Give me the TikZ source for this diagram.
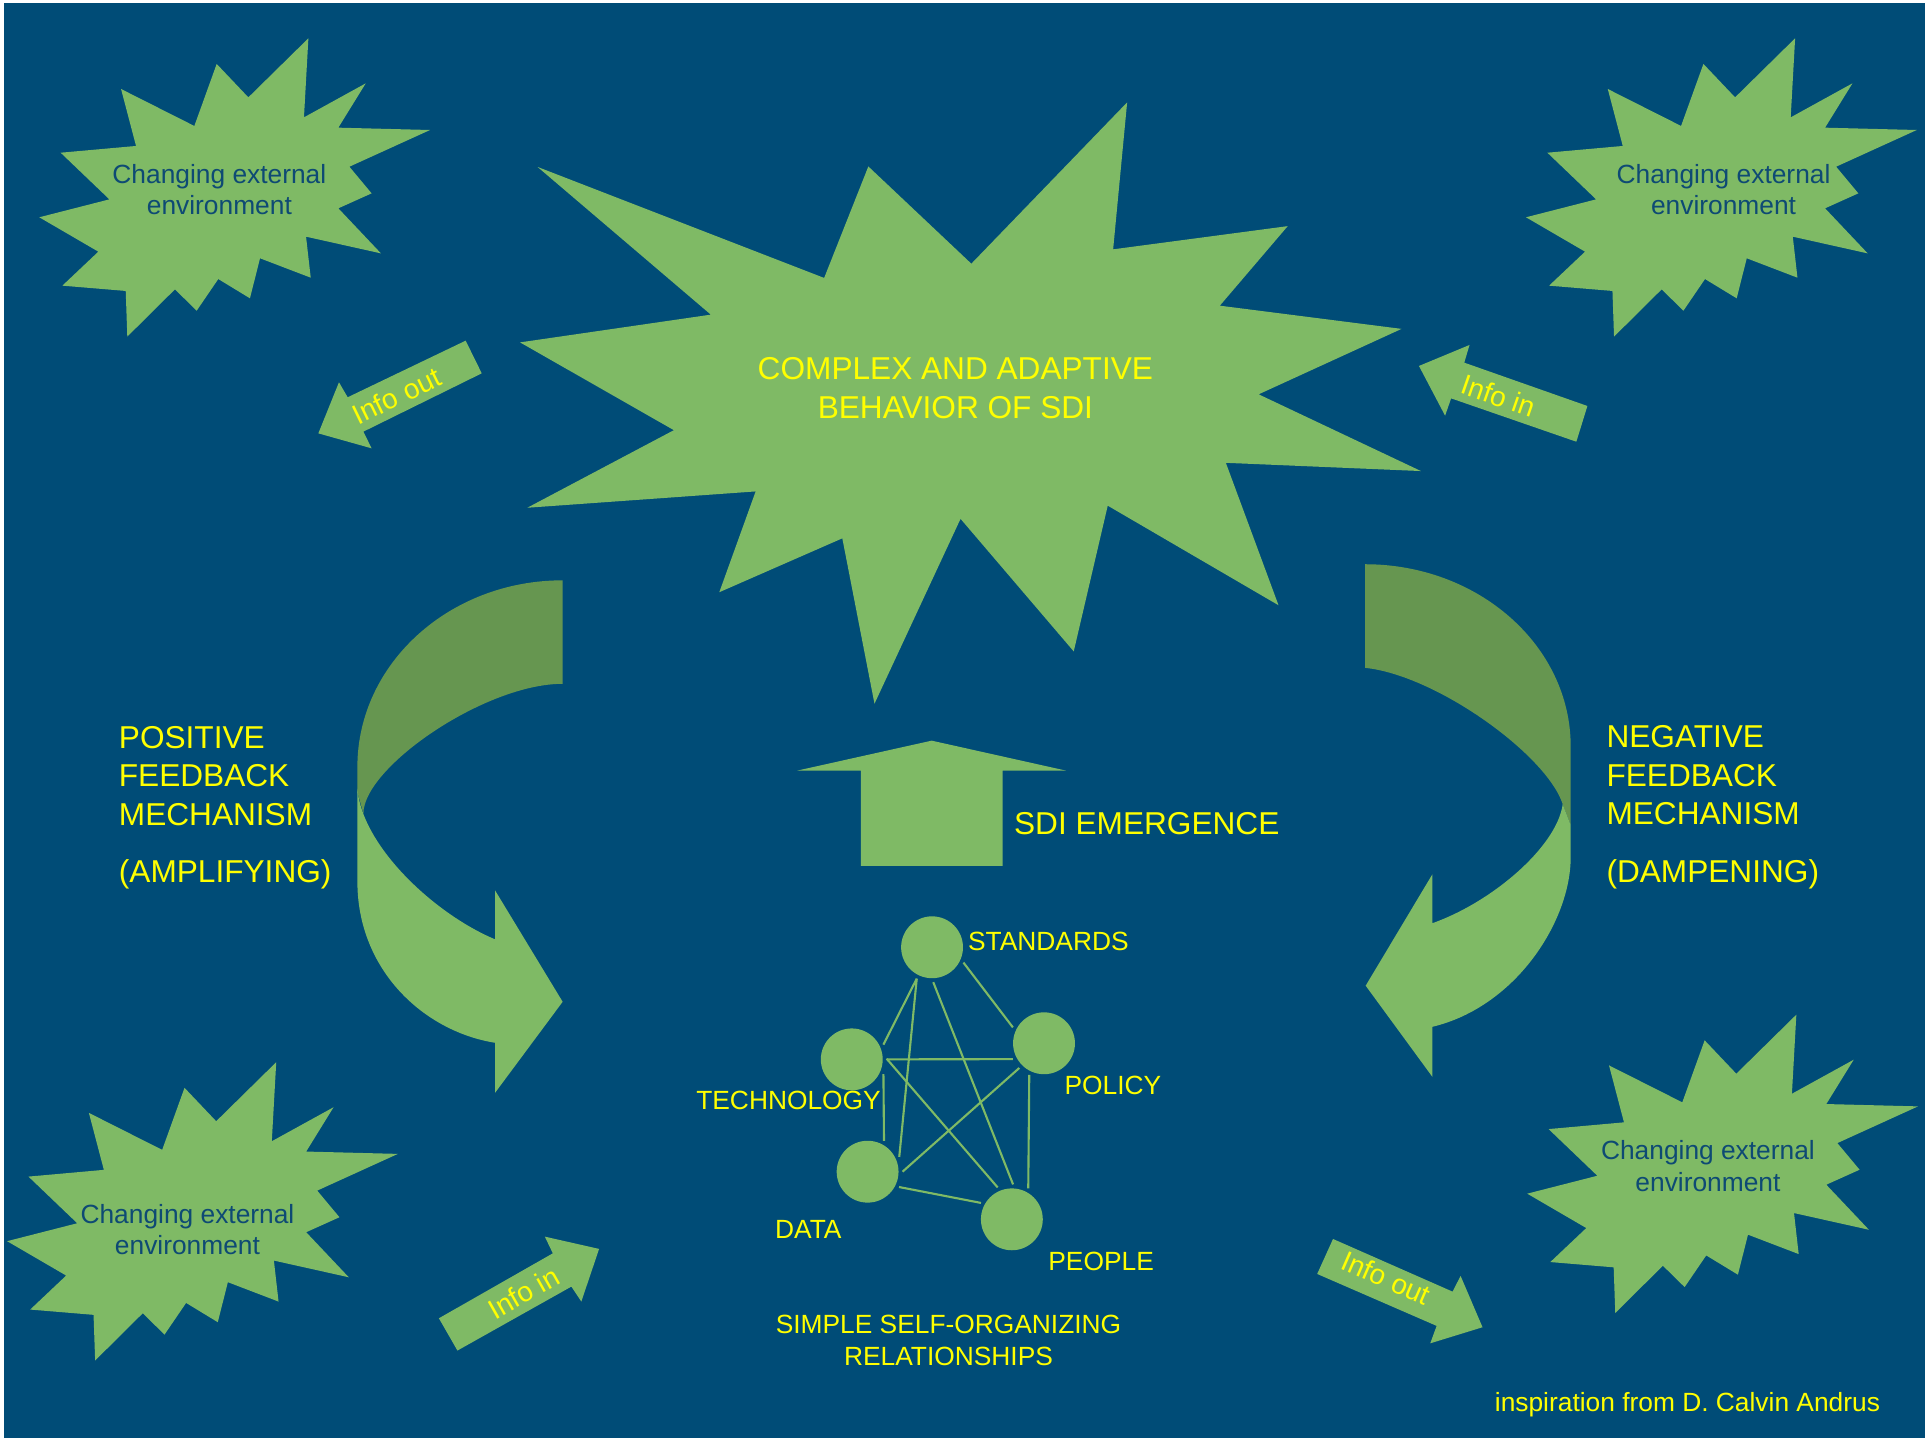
\documentclass[tikz,border=0pt]{standalone}
\usepackage{fontspec}
\setmainfont{Liberation Sans}
\usepackage{xcolor}
\definecolor{sdiblue}{RGB}{0,76,119}
\definecolor{sdigreen}{RGB}{127,186,101}
\definecolor{sdidark}{RGB}{102,150,80}
\definecolor{sdiyellow}{RGB}{255,255,0}
\definecolor{sditext}{RGB}{14,74,116}
\newcommand{\burstpts}{(251.2,31.2) -- (247.6,95.6) -- (297.9,67.9) -- (275.6,104.0) -- (350.3,105.9) -- (284.6,135.8) -- (302.7,157.5) -- (275.6,169.7) -- (310.3,206.4) -- (249.3,192.8) -- (253.1,226.2) -- (211.8,210.4) -- (203.6,243.0) -- (177.8,227.3) -- (160.2,253.1) -- (142.5,235.7) -- (103.7,274.2) -- (102.4,237.0) -- (50.8,232.7) -- (80.1,205.0) -- (32.0,177.0) -- (89.1,162.4) -- (49.4,124.4) -- (110.8,118.9) -- (98.6,72.5) -- (158.3,102.6) -- (176.5,52.1) -- (202.3,79.3) -- cycle}

\begin{document}
\begin{tikzpicture}[x=0.012277cm,y=-0.012277cm,
    burst/.style={fill=sdigreen},
    back/.style={fill=sdidark},
    bigtxt/.style={text=sdiyellow,font=\fontsize{9}{11}\selectfont,inner sep=0pt},
    smalltxt/.style={text=sdiyellow,font=\fontsize{7.5}{9.1}\selectfont,inner sep=0pt},
    envtxt/.style={text=sditext,font=\fontsize{7.5}{8.9}\selectfont,inner sep=0pt,align=center,anchor=north},
    infotxt/.style={text=sdiyellow,font=\fontsize{8}{9.6}\selectfont,inner sep=0pt},
    actor/.style={circle,fill=sdigreen,minimum size=0.619cm,inner sep=0pt,outer sep=0.04cm},
    link/.style={draw=sdigreen,line width=0.6pt}]
        \useasboundingbox (0,0) rectangle (1568,1174.6);
        %draw the background
        \fill[white] (0,0) rectangle (1568,1174.6);
        \fill[sdiblue] (3.3,2.4) rectangle (1568,1171.5);

        %the four changing environments
        \foreach \dx/\dy in {0/0,1211/0,-26.2/834,1212/795.3}
        \fill[burst,shift={(\dx,\dy)}] \burstpts;
        \node[envtxt] (envtl) at (178.7,133.2) {Changing external\\environment};
        \node[envtxt] (envtr) at (1403.9,133.2) {Changing external\\environment};
        \node[envtxt] (envbl) at (152.7,980.3) {Changing external\\environment};
        \node[envtxt] (envbr) at (1391.2,928.7) {Changing external\\environment};

        %the big burst
        \fill[burst] (918.1,83.4) -- (906.7,203.1) -- (1048.9,184.2) -- (993.6,249.0) -- (1141.6,267.9) -- (1025.2,321.2) -- (1157.4,383.7) -- (998.5,377.0) -- (1041.4,493.0) -- (902.3,411.9) -- (874.6,530.6) -- (782.4,422.6) -- (712.3,573.2) -- (686.1,438.5) -- (585.9,482.4) -- (615.5,400.3) -- (429.5,413.6) -- (548.9,350.4) -- (423.6,278.9) -- (579.0,256.3) -- (437.9,136.0) -- (671.3,226.4) -- (707.3,135.6) -- (791.2,214.8) -- cycle;
        \node[bigtxt,align=center,anchor=north] (cas) at (778.2,290.7) {COMPLEX AND ADAPTIVE\\BEHAVIOR OF SDI};

        %info arrows
        \fill[burst] (259.3,353.0) -- (276.1,311.4) -- (283.2,323.6) -- (379.3,277.5) -- (392.4,304.1) -- (296.0,351.6) -- (302.7,365.2) -- cycle;
        \fill[burst] (1155.8,298.1) -- (1197.0,281.0) -- (1192.7,295.4) -- (1293.0,330.7) -- (1284.0,359.8) -- (1182.0,324.5) -- (1177.1,338.6) -- cycle;
        \fill[burst] (488.0,1017.3) -- (443.8,1007.3) -- (450.3,1020.9) -- (357.5,1073.8) -- (372.6,1100.1) -- (465.4,1048.0) -- (473.5,1060.2) -- cycle;
        \fill[burst] (1207.6,1081.1) -- (1189.7,1039.3) -- (1183.2,1052.1) -- (1085.8,1009.2) -- (1072.9,1037.7) -- (1170.2,1080.0) -- (1165.0,1094.2) -- cycle;
        \node[infotxt,rotate=25.9] (outtl) at (323.1,322.5) {Info out};
        \node[infotxt,rotate=-19.2] (intr) at (1220.7,322.5) {Info in};
        \node[infotxt,rotate=29.5] (inbl) at (426.5,1053) {Info in};
        \node[infotxt,rotate=-23.6] (outbr) at (1129,1041) {Info out};

        %positive feedback arrow
        \fill[back] (458.3,472.7) .. controls (366,472.7) and (291.1,540.8) .. (291.1,624.7) -- (291.1,645) -- (296,662.7) .. controls (296,625) and (395,557) .. (458.3,557) -- cycle;
        \fill[burst] (291.1,642.3) -- (291.1,718) .. controls (291.1,790) and (345,840) .. (403.2,849.4) -- (403.2,890.2) -- (458.3,816) -- (403.2,725.2) -- (403.2,765.1) .. controls (355,745) and (295,690) .. (291.1,642.3) -- cycle;
        \node[bigtxt,align=left,anchor=north west] (posfb) at (96.3,590.8) {POSITIVE\\FEEDBACK\\MECHANISM\\[5.3pt](AMPLIFYING)};

        %negative feedback arrow
        \fill[back] (1111.9,459.6) .. controls (1204.4,459.6) and (1279.4,526.1) .. (1279.4,608) -- (1279.4,672) -- (1272.9,655.1) .. controls (1260,615) and (1170,550) .. (1111.9,544) -- cycle;
        \fill[burst] (1272.9,655.1) -- (1279.4,672) -- (1279.4,698.2) .. controls (1279.4,750) and (1235,820) .. (1166.7,836.4) -- (1166.7,877.1) -- (1112.4,802.9) -- (1166.7,712.2) -- (1166.7,752) .. controls (1215,735) and (1268,690) .. (1272.9,655.1) -- cycle;
        \node[bigtxt,align=left,anchor=north west] (negfb) at (1308,590.3) {NEGATIVE\\FEEDBACK\\MECHANISM\\[5.3pt](DAMPENING)};

        %emergence arrow
        \fill[burst] (758.9,603.3) -- (868.3,627.7) -- (816.7,627.7) -- (816.7,705.4) -- (701.3,705.4) -- (701.3,627.7) -- (649.4,627.7) -- cycle;
        \node[bigtxt,anchor=base west] (emerge) at (825.5,680.1) {SDI EMERGENCE};

        %the self organizing network
        \node[actor] (std) at (759.2,771.6) {};
        \node[actor] (tech) at (693.8,862.9) {};
        \node[actor] (pol) at (850.4,849.8) {};
        \node[actor] (data) at (706.7,954.4) {};
        \node[actor] (ppl) at (824.2,993.2) {};
        \foreach \a/\b in {std.244/tech.25,std.244/data.25,std.272/ppl.88,std.334/pol.153,tech.0/pol.207,tech.1/ppl.114,tech.335/data.62,pol.225/data.0,pol.245/ppl.62,data.334/ppl.152}
        \draw[link] (\a) -- (\b);
        \node[smalltxt,anchor=base west] (stdlbl) at (788,774.4) {STANDARDS};
        \node[smalltxt,anchor=base west] (pollbl) at (866.6,891.4) {POLICY};
        \node[smalltxt,anchor=base west] (techlbl) at (566.6,904.1) {TECHNOLOGY};
        \node[smalltxt,anchor=base west] (datalbl) at (630.8,1008.7) {DATA};
        \node[smalltxt,anchor=base west] (ppllbl) at (853.4,1034.5) {PEOPLE};
        \node[smalltxt,align=center,anchor=north] (simple) at (772.6,1071.0) {SIMPLE SELF-ORGANIZING\\RELATIONSHIPS};

        \node[smalltxt,anchor=base west] (credit) at (1217.1,1149.9) {inspiration from D. Calvin Andrus};
\end{tikzpicture}
\end{document}
